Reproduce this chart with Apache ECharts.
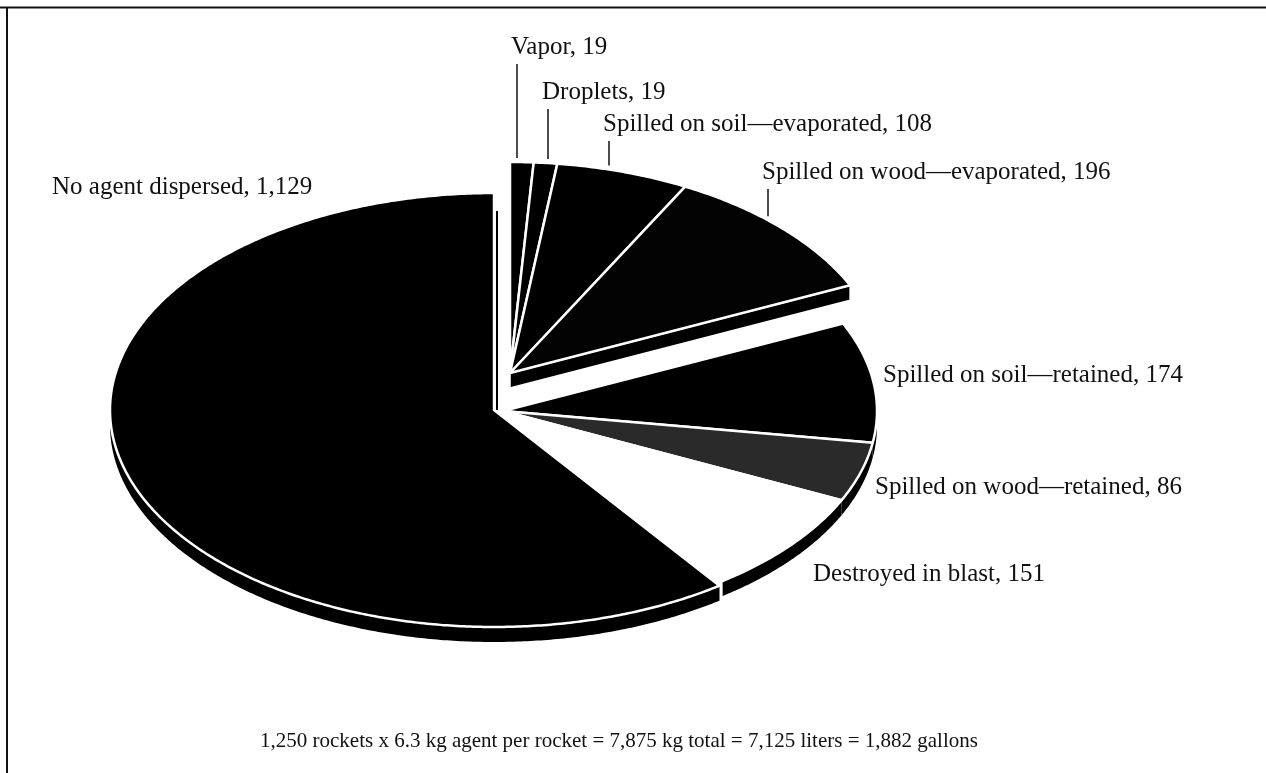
<!DOCTYPE html>
<html>
<head>
<meta charset="utf-8">
<script src="https://cdn.jsdelivr.net/npm/echarts@6/dist/echarts.min.js"></script>
<style>
html,body{margin:0;padding:0;background:#fff;}
#chart{width:1266px;height:773px;}
</style>
</head>
<body>
<div id="chart"></div>
<script>
// ---- data ----
const categories = ['Vapor', 'Droplets', 'Spilled on soil\u2014evaporated', 'Spilled on wood\u2014evaporated',
  'Spilled on soil\u2014retained', 'Spilled on wood\u2014retained', 'Destroyed in blast', 'No agent dispersed'];
const values = [19, 19, 108, 196, 174, 86, 151, 1129];
const footnote = '1,250 rockets x 6.3 kg agent per rocket = 7,875 kg total = 7,125 liters = 1,882 gallons';

// ---- layout / style (kept apart from data) ----
const groupOf = ['top', 'top', 'top', 'top', 'low', 'low', 'low', 'main'];
const geoms = {
  top:  { x: 510, y: 373, rx: 374, ry: 211 },
  low:  { x: 503, y: 411, rx: 374, ry: 210 },
  main: { x: 494, y: 410, rx: 384, ry: 217 }
};
const depth = 15;
const fills = ['#000', '#000', '#000', '#030303', '#000', '#2a2a2a', '#fff', '#000'];
const labelPos = [[511, 47], [542, 92], [603, 124], [762, 172], [883, 375], [875, 487], [813, 574], [52, 187]];
const leaderFor = [true, true, true, true, false, false, false, false];
const FONT = '"Liberation Serif", "DejaVu Serif", serif';

const total = values.reduce((a, b) => a + b, 0);
const cum = [];
values.reduce((acc, v, i) => { cum[i] = acc; return acc + v; }, 0);

function pt(g, a, dy) {
  const r = a * Math.PI / 180;
  return [g.x + g.rx * Math.sin(r), g.y - g.ry * Math.cos(r) + (dy || 0)];
}
function arc(g, a1, a2, dy) {
  const n = Math.max(2, Math.ceil((a2 - a1) / 0.5));
  const out = [];
  for (let k = 0; k <= n; k++) out.push(pt(g, a1 + (a2 - a1) * k / n, dy));
  return out;
}

function renderItem(params, api) {
  const i = params.dataIndex;
  const v = api.value(0);
  const a1 = cum[i] / total * 360, a2 = (cum[i] + v) / total * 360;
  const gname = groupOf[i];
  const g = geoms[gname];
  const zb = gname === 'top' ? 0 : 10;
  const children = [];

  // outer side wall (front-facing part)
  const s1 = Math.max(a1, 90), s2 = Math.min(a2, 270);
  if (s2 > s1) {
    const upper = arc(g, s1, s2, 0);
    const lower = arc(g, s1, s2, depth).reverse();
    children.push({ type: 'polygon', shape: { points: upper.concat(lower) },
      style: { fill: '#000' }, z2: zb + 1 });
  }
  // radial end face of the exploded top group
  const lastInGroup = (i === values.length - 1) || groupOf[i + 1] !== gname;
  if (gname === 'top' && lastInGroup) {
    const e = pt(g, a2, 0);
    children.push({ type: 'polygon',
      shape: { points: [[g.x, g.y], e, [e[0], e[1] + depth], [g.x, g.y + depth]] },
      style: { fill: '#000', stroke: '#fff', lineWidth: 1.5 }, z2: zb + 1 });
  }
  // top surface
  children.push({ type: 'polygon', shape: { points: [[g.x, g.y]].concat(arc(g, a1, a2, 0)) },
    style: { fill: fills[i], stroke: '#fff', lineWidth: 2.5, lineJoin: 'round' }, z2: zb + 2 });

  // visible cut face of the big slice (thin edge at 12 o'clock)
  if (gname === 'main') {
    children.push({ type: 'line', shape: { x1: g.x + 3, y1: g.y - g.ry + 18, x2: g.x + 3, y2: g.y },
      style: { stroke: '#000', lineWidth: 2 }, z2: zb + 3 });
  }

  // label
  const lp = labelPos[i];
  children.push({ type: 'text', z2: 50,
    style: { text: categories[i] + ', ' + v.toLocaleString('en-US'), x: lp[0], y: lp[1],
      fill: '#111', font: '25px ' + FONT, textAlign: 'left', textVerticalAlign: 'middle' } });
  if (leaderFor[i]) {
    const lx = lp[0] + 6;
    const t = (lx - g.x) / g.rx;
    const ay = g.y - g.ry * Math.sqrt(Math.max(0, 1 - t * t));
    children.push({ type: 'line', z2: 50,
      shape: { x1: lx, y1: lp[1] + 17, x2: lx, y2: ay - 4 },
      style: { stroke: '#111', lineWidth: 1.5 } });
  }
  return { type: 'group', children };
}

const chart = echarts.init(document.getElementById('chart'), null, { renderer: 'canvas' });
chart.setOption({
  animation: false,
  backgroundColor: '#fff',
  graphic: [
    { type: 'line', shape: { x1: 0, y1: 7.5, x2: 1266, y2: 7.5 }, style: { stroke: '#111', lineWidth: 2 } },
    { type: 'line', shape: { x1: 7, y1: 7, x2: 7, y2: 773 }, style: { stroke: '#111', lineWidth: 2 } },
    { type: 'text', left: 260, top: 731,
      style: { text: footnote, fill: '#111', font: '21px ' + FONT } }
  ],
  series: [{
    type: 'custom',
    coordinateSystem: 'none',
    renderItem: renderItem,
    data: values.map(v => [v])
  }]
});
</script>
</body>
</html>
